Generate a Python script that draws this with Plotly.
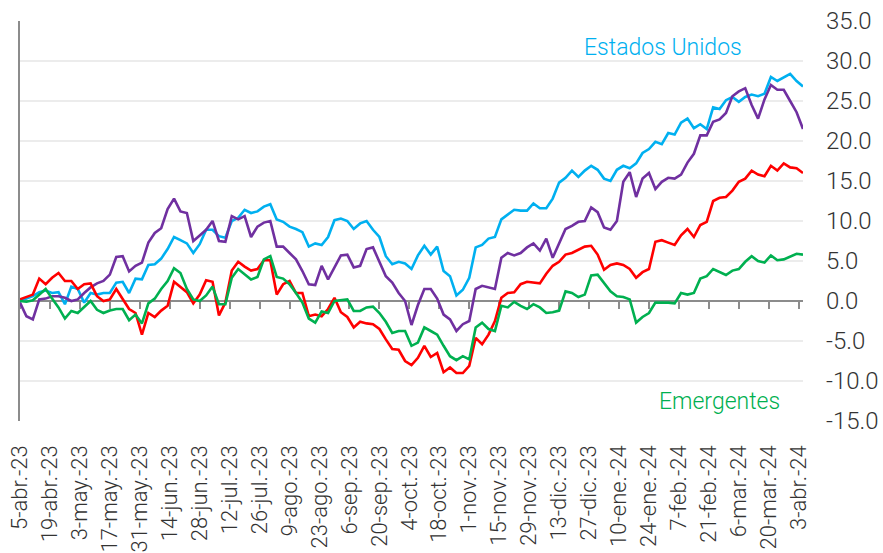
import plotly.graph_objects as go
import pandas as pd

# Sample dates (every 3 calendar days, 5-Apr-2023 .. 5-Apr-2024)
dates = pd.date_range("2023-04-05", "2024-04-05", freq="3D")

estados_unidos = [0.0, 0.3, 0.6, 1.1, 1.3, 1.0, 1.1, -0.4, 1.8, 1.5,
                  -0.2, 1.0, 0.8, 1.0, 1.0, 2.3, 2.4, 1.0, 2.8, 2.7,
                  4.5, 4.6, 5.3, 6.5, 8.0, 7.6, 7.2, 6.0, 7.1, 8.9,
                  8.9, 8.1, 7.9, 10.0, 10.4, 11.4, 11.0, 11.2, 11.8, 12.1,
                  10.2, 9.9, 9.3, 9.0, 8.6, 6.8, 7.2, 7.0, 8.0, 10.1,
                  10.3, 10.0, 9.0, 9.7, 10.0, 8.9, 8.0, 5.6, 4.6, 4.9,
                  4.7, 4.0, 5.7, 6.9, 5.8, 6.8, 3.75, 3.1, 0.7, 1.4,
                  2.9, 6.7, 7.0, 7.8, 8.0, 10.2, 10.8, 11.4, 11.3, 11.3,
                  12.2, 11.6, 11.6, 12.8, 14.8, 15.4, 16.3, 15.5, 16.3, 16.9,
                  16.4, 15.3, 15.0, 16.4, 16.9, 16.6, 17.2, 18.5, 19.0, 19.9,
                  19.6, 21.0, 20.8, 22.3, 22.8, 21.6, 22.1, 21.5, 24.2, 24.0,
                  25.1, 25.5, 24.9, 25.5, 25.8, 25.6, 25.9, 28.0, 27.5, 28.0,
                  28.4, 27.5, 26.8]

serie_morada = [-0.2, -1.9, -2.3, 0.2, 0.3, 0.6, 0.6, 0.4, 0.0, 0.2,
                1.0, 1.7, 2.2, 2.5, 3.3, 5.5, 5.6, 3.7, 4.4, 4.8,
                7.3, 8.5, 9.1, 11.5, 12.8, 11.2, 11.0, 7.5, 8.2, 8.9,
                10.0, 7.5, 7.4, 10.6, 10.2, 10.6, 8.0, 9.3, 9.8, 10.0,
                6.8, 6.8, 6.0, 5.2, 3.75, 2.1, 2.0, 4.4, 2.7, 4.2,
                5.7, 5.8, 4.2, 4.4, 6.5, 6.7, 5.0, 3.1, 2.3, 1.0,
                0.0, -3.0, -0.5, 1.5, 1.5, 0.3, -1.7, -2.3, -3.75, -2.9,
                -2.5, 1.5, 1.9, 1.7, 1.5, 5.4, 6.0, 5.7, 6.0, 6.7,
                7.2, 6.3, 7.8, 5.4, 7.3, 9.0, 9.4, 9.9, 10.0, 11.7,
                11.1, 9.2, 8.9, 10.0, 14.9, 16.1, 13.0, 15.3, 16.0, 14.0,
                14.9, 15.4, 15.3, 15.8, 17.3, 18.4, 20.7, 20.7, 22.4, 22.7,
                23.5, 25.6, 26.2, 26.6, 24.5, 22.8, 25.2, 27.0, 26.4, 26.4,
                25.0, 23.6, 21.5]

serie_roja = [0.2, 0.5, 0.8, 2.8, 2.1, 2.9, 3.5, 2.5, 2.5, 1.5,
              2.1, 2.2, 0.6, 0.0, 0.2, 1.5, 0.2, -1.0, -1.5, -4.2,
              -1.5, -2.0, -1.2, -0.6, 2.4, 1.7, 1.1, -0.3, 0.8, 2.6,
              2.4, -1.8, -0.2, 3.8, 4.9, 4.3, 3.8, 4.0, 5.1, 5.1,
              0.8, 2.1, 2.5, 1.0, 1.0, -1.9, -1.7, -1.9, -1.0, 0.4,
              -1.4, -2.0, -3.3, -2.6, -2.8, -2.9, -3.5, -4.8, -6.0, -6.1,
              -7.5, -8.0, -7.1, -5.6, -7.0, -6.5, -8.9, -8.3, -9.0, -9.0,
              -8.1, -4.6, -5.4, -4.2, -2.5, 0.4, 1.0, 1.1, 2.1, 2.4,
              2.3, 2.2, 3.4, 4.4, 4.9, 5.8, 6.0, 6.4, 6.8, 6.9,
              5.8, 3.9, 4.5, 4.7, 4.5, 4.0, 2.9, 3.6, 4.0, 7.4,
              7.6, 7.3, 7.0, 8.2, 9.0, 8.0, 9.5, 9.9, 12.5, 12.9,
              13.0, 13.8, 14.9, 15.3, 16.3, 15.8, 15.6, 16.9, 16.3, 17.2,
              16.7, 16.6, 16.0]

emergentes = [0.0, -0.1, 0.1, 0.8, 1.5, 0.3, -0.8, -2.2, -1.25, -1.5,
              -0.8, 0.0, -1.1, -1.5, -1.2, -1.0, -1.0, -2.4, -1.7, -2.8,
              -0.3, 0.3, 1.5, 2.5, 4.1, 3.5, 1.5, 0.2, 0.0, 0.7,
              1.8, -0.4, -0.4, 2.9, 4.0, 3.4, 2.7, 3.0, 5.2, 5.6,
              3.0, 2.8, 2.1, 1.0, -0.2, -2.2, -2.7, -1.3, -1.5, 0.0,
              0.1, 0.2, -1.25, -1.25, -0.8, -0.7, -1.5, -2.6, -4.0, -3.75,
              -3.75, -5.6, -5.2, -3.3, -3.75, -4.2, -5.6, -6.9, -7.4, -6.9,
              -7.3, -3.3, -2.7, -3.5, -3.75, -0.6, -0.8, -0.1, -0.6, -1.0,
              -0.4, -0.8, -1.5, -1.4, -1.2, 1.2, 1.0, 0.5, 0.8, 3.2,
              3.3, 2.2, 1.2, 0.6, 0.5, 0.2, -2.7, -2.0, -1.5, -0.2,
              -0.2, -0.2, -0.3, 1.0, 0.8, 1.0, 2.8, 3.1, 4.0, 3.6,
              3.25, 3.8, 4.0, 4.9, 5.6, 5.0, 4.8, 5.7, 5.1, 5.2,
              5.6, 5.9, 5.8]

tick_dates = ["2023-04-05", "2023-04-19", "2023-05-03", "2023-05-17", "2023-05-31",
              "2023-06-14", "2023-06-28", "2023-07-12", "2023-07-26", "2023-08-09",
              "2023-08-23", "2023-09-06", "2023-09-20", "2023-10-04", "2023-10-18",
              "2023-11-01", "2023-11-15", "2023-11-29", "2023-12-13", "2023-12-27",
              "2024-01-10", "2024-01-24", "2024-02-07", "2024-02-21", "2024-03-06",
              "2024-03-20", "2024-04-03"]
tick_labels = ["5-abr.-23", "19-abr.-23", "3-may.-23", "17-may.-23", "31-may.-23",
               "14-jun.-23", "28-jun.-23", "12-jul.-23", "26-jul.-23", "9-ago.-23",
               "23-ago.-23", "6-sep.-23", "20-sep.-23", "4-oct.-23", "18-oct.-23",
               "1-nov.-23", "15-nov.-23", "29-nov.-23", "13-dic.-23", "27-dic.-23",
               "10-ene.-24", "24-ene.-24", "7-feb.-24", "21-feb.-24", "6-mar.-24",
               "20-mar.-24", "3-abr.-24"]
y_ticks = [-15, -10, -5, 0, 5, 10, 15, 20, 25, 30, 35]
y_labels = ["-15.0", "-10.0", "-5.0", "0.0", "5.0", "10.0", "15.0", "20.0", "25.0", "30.0", "35.0"]

series = [
    ("Estados Unidos", estados_unidos, "#00B0F0"),
    ("Serie morada", serie_morada, "#7030A0"),
    ("Serie roja", serie_roja, "#FF0000"),
    ("Emergentes", emergentes, "#00B050"),
]

FONT = "Roboto"
AXIS_GRAY = "#8c8c8c"
TEXT_COLOR = "#333333"

fig = go.Figure()
# empty helper trace so the overlay axes (zero axis with ticks, left axis line) are drawn
fig.add_trace(go.Scatter(x=[], y=[], xaxis="x2", yaxis="y2", mode="lines",
                         showlegend=False, hoverinfo="skip"))
for name, vals, color in series:
    fig.add_trace(go.Scatter(x=dates, y=vals, mode="lines", name=name,
                             line=dict(color=color, width=2.6)))

xrange = [dates[0], dates[-1]]

fig.update_layout(
    width=883, height=553,
    margin=dict(l=20, r=80, t=21, b=132, autoexpand=False),
    paper_bgcolor="white", plot_bgcolor="white",
    showlegend=False,
    font=dict(family=FONT, size=24, color=TEXT_COLOR, weight=300),
    xaxis=dict(type="date", range=xrange, tickmode="array",
               tickvals=tick_dates, ticktext=tick_labels, tickangle=-90,
               showgrid=False, zeroline=False, showline=False, ticks="",
               ticklabelstandoff=19, automargin=False,
               tickfont=dict(family=FONT, size=22, color=TEXT_COLOR, weight=300)),
    xaxis2=dict(type="date", overlaying="x", anchor="free", position=0.3,
                range=xrange, tickmode="array", tickvals=tick_dates,
                showticklabels=False, ticks="outside", ticklen=7, tickwidth=2,
                tickcolor=AXIS_GRAY, showline=True, linecolor=AXIS_GRAY,
                linewidth=2, showgrid=False, zeroline=False, layer="below traces",
                automargin=False),
    yaxis=dict(side="right", range=[-15, 35], tickmode="array",
               tickvals=y_ticks, ticktext=y_labels,
               showgrid=True, gridcolor="#ececec", gridwidth=1.5,
               zeroline=False, showline=False, ticks="",
               ticklabelstandoff=22, automargin=False,
               tickfont=dict(family=FONT, size=24, color=TEXT_COLOR, weight=300)),
    yaxis2=dict(overlaying="y", side="left", range=[-15, 35],
                showline=True, linecolor=AXIS_GRAY, linewidth=2,
                showgrid=False, zeroline=False, showticklabels=False, ticks="",
                automargin=False),
    annotations=[
        dict(text="Estados Unidos", xref="paper", yref="paper", x=0.821, y=0.934,
             xanchor="center", yanchor="middle", showarrow=False,
             font=dict(family=FONT, size=23, color="#00B0F0", weight=300)),
        dict(text="Emergentes", xref="paper", yref="paper", x=0.893, y=0.05,
             xanchor="center", yanchor="middle", showarrow=False,
             font=dict(family=FONT, size=23, color="#00B050", weight=300)),
    ],
)

fig.write_html(
    "out.html",
    config={"displayModeBar": False},
    post_script="document.body.style.margin='0px';document.body.style.overflow='hidden';",
)
